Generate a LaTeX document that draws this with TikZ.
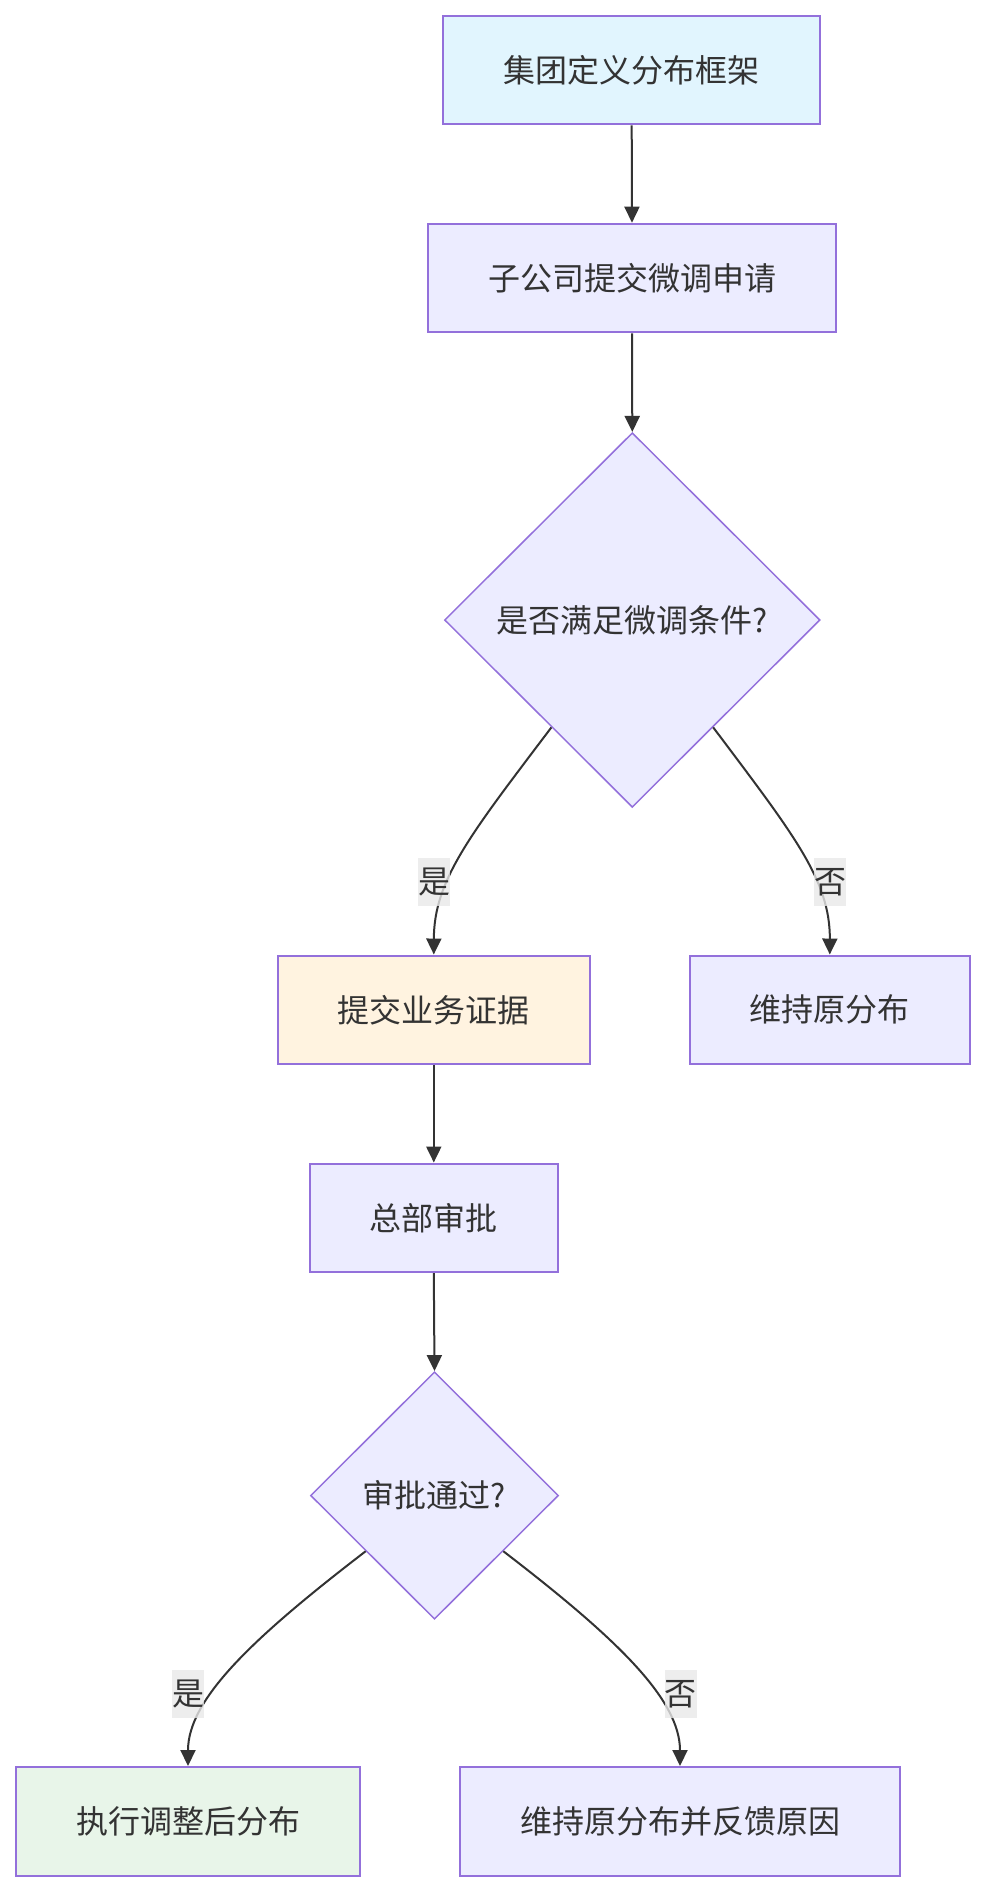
\documentclass[tikz,border=0pt]{standalone}
\usepackage{fontspec}
\setmainfont{Noto Sans CJK SC}
\usetikzlibrary{shapes.geometric,arrows.meta}
\definecolor{bordc}{HTML}{9370DB}
\definecolor{fillc}{HTML}{ECECFF}
\definecolor{startc}{HTML}{E1F5FE}
\definecolor{warnc}{HTML}{FFF3E0}
\definecolor{okc}{HTML}{E8F5E9}
\definecolor{edgec}{HTML}{333333}
\definecolor{lblc}{HTML}{E8E8E8}
\begin{document}
\begin{tikzpicture}[x=0.5pt,y=-0.5pt,
  txt/.style={text=edgec, font=\fontsize{16}{19}\selectfont},
  box/.style={txt, rectangle, draw=bordc, line width=1pt, fill=fillc, inner sep=0pt, minimum height=54.3pt},
  dec/.style={txt, diamond, draw=bordc, line width=0.75pt, fill=fillc, inner sep=0pt, aspect=1},
  edge/.style={draw=edgec, line width=1pt, -{Triangle[length=8pt,width=7.5pt]}},
  lbl/.style={txt, fill=lblc, fill opacity=0.8, text opacity=1, inner sep=0pt, minimum width=16pt, minimum height=23.85pt}]
\useasboundingbox (0,0) rectangle (986,1891);

\node[box, fill=startc, minimum width=188.35pt] (n1) at (631.7,70) {集团定义分布框架};
\node[box, minimum width=204pt] (n2) at (632,278) {子公司提交微调申请};
\node[dec, minimum width=187.8pt, minimum height=187.3pt] (d1) at (632.3,620) {是否满足微调条件?};
\node[box, fill=warnc, minimum width=156.15pt] (n3) at (433.8,1009.8) {提交业务证据};
\node[box, minimum width=140.15pt] (n4) at (829.8,1009.8) {维持原分布};
\node[box, minimum width=124.15pt] (n5) at (433.8,1217.8) {总部审批};
\node[dec, minimum width=124pt, minimum height=123.7pt] (d2) at (434.5,1495.5) {审批通过?};
\node[box, fill=okc, minimum width=172.3pt] (n6) at (188,1821.3) {执行调整后分布};
\node[box, minimum width=220.3pt] (n7) at (680,1821.3) {维持原分布并反馈原因};

\draw[edge] (n1.south) -- (n2.north);
\draw[edge] (n2.south) -- (d1.north);
\draw[edge] (d1.233) .. controls (470,835) and (434,880) .. (n3.north);
\draw[edge] (d1.307) .. controls (794,835) and (830,880) .. (n4.north);
\draw[edge] (n3.south) -- (n5.north);
\draw[edge] (n5.south) -- (d2.north);
\draw[edge] (d2.219) .. controls (250,1640) and (188,1700) .. (n6.north);
\draw[edge] (d2.321) .. controls (619,1640) and (680,1700) .. (n7.north);

\node[lbl] (l1) at (434,882) {是};
\node[lbl] (l2) at (830,882) {否};
\node[lbl] (l3) at (188,1694) {是};
\node[lbl] (l4) at (680.5,1694) {否};
\end{tikzpicture}
\end{document}
